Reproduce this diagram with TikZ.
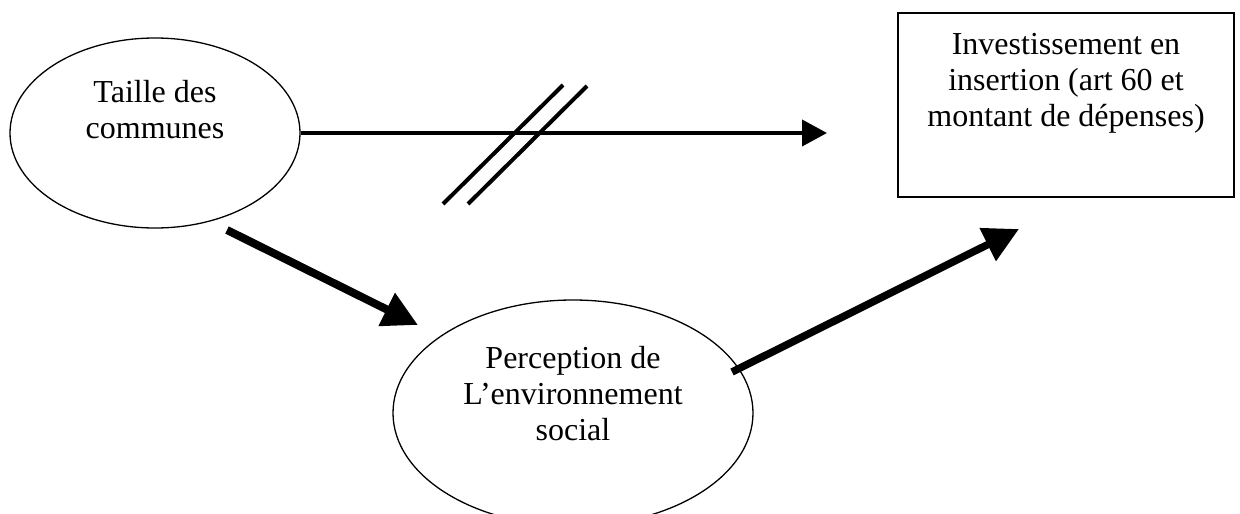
\documentclass[tikz,border=0pt]{standalone}
\usepackage{fontspec}
\setmainfont{Liberation Serif}
\usetikzlibrary{shapes.geometric,arrows.meta}

\begin{document}
\begin{tikzpicture}[x=1pt, y=-1pt,
		oval/.style={draw, ellipse, line width=1.3pt, inner sep=0pt},
		txt/.style={align=center, anchor=base, inner sep=0pt, font=\fontsize{32}{36}\selectfont},
		grosse/.style={line width=8pt, -{Triangle[length=35pt, width=35pt]}}]
		\useasboundingbox (0,0) rectangle (1240,514);
		% les trois blocs
		\node[oval, minimum width=290pt, minimum height=190pt] (taille) at (155,133) {};
		\node[oval, minimum width=360pt, minimum height=226pt] (persp) at (573,413) {};
		\node[draw, rectangle, line width=2pt, minimum width=336pt, minimum height=184pt] (invest) at (1066,105) {};
		\node[txt] (tailleT) at (155,138) {Taille des\\communes};
		\node[txt] (perspT) at (573,440) {Perception de\\L’environnement\\social};
		\node[txt] (investT) at (1066,126) {Investissement en\\insertion (art 60 et\\montant de dépenses)};
		% fleches
		\coordinate (hfin) at (827,133);
		\coordinate (d1) at (227,230);
		\coordinate (f1) at (418,325);
		\coordinate (d2) at (732,372);
		\coordinate (f2) at (1019,229);
		\draw[line width=4pt, -{Triangle[length=25pt, width=26pt]}] (taille.east) -- (hfin);
		\draw[grosse] (d1) -- (f1);
		\draw[grosse, line width=7.5pt] (d2) -- (f2);
		% barres
		\draw[line width=4pt] (443,204) -- (563,85);
		\draw[line width=4pt] (468,204) -- (587,86);
	\end{tikzpicture}
\end{document}
